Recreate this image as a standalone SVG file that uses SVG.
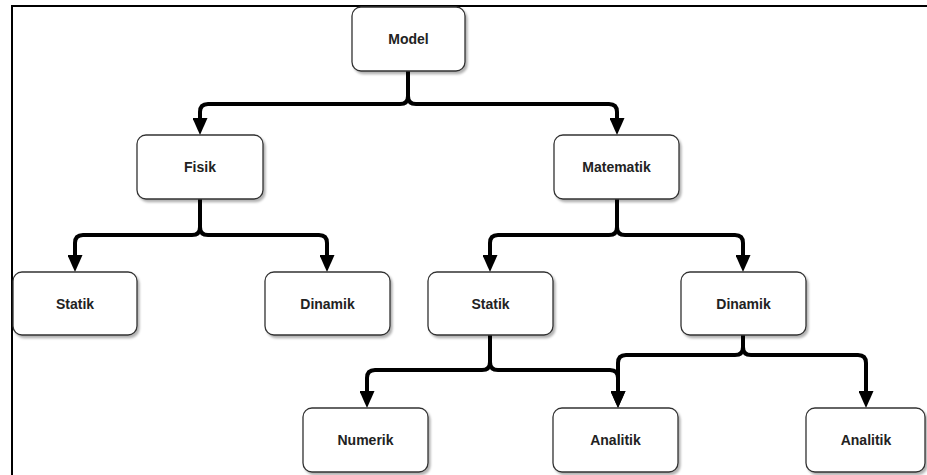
<svg xmlns="http://www.w3.org/2000/svg" width="927" height="475" viewBox="0 0 927 475">
<style>
.box{fill:#fff;stroke:#333;stroke-width:1.3;filter:url(#sh)}
.lbl{font-family:"Liberation Sans",Arial,sans-serif;font-size:14px;font-weight:bold;fill:#222;text-anchor:middle;dominant-baseline:central}
.edge{fill:none;stroke:#000;stroke-width:4;stroke-linejoin:round;marker-end:url(#arr)}
</style>
<defs>
<filter id="sh" x="-10%" y="-10%" width="130%" height="140%">
<feDropShadow dx="2" dy="2.5" stdDeviation="1.2" flood-color="#000" flood-opacity="0.3"/>
</filter>
<marker id="arr" markerUnits="userSpaceOnUse" markerWidth="17" markerHeight="15" refX="1" refY="7.5" orient="auto">
<path d="M0,0 L17,7.5 L0,15 z" fill="#000"/>
</marker>
</defs>
<rect width="927" height="475" fill="#fff"/>
<path d="M12,475 V6 H927" fill="none" stroke="#000" stroke-width="2"/>
<g id="connectors">
<path class="edge" d="M408,71 V96 Q408,104 400,104 H208 Q200,104 200,112 V119"/>
<path class="edge" d="M408,71 V96 Q408,104 416,104 H609 Q617,104 617,112 V119"/>
<path class="edge" d="M200,199 V227 Q200,235 192,235 H83 Q75,235 75,243 V256"/>
<path class="edge" d="M200,199 V227 Q200,235 208,235 H319 Q327,235 327,243 V256"/>
<path class="edge" d="M617,199 V227 Q617,235 609,235 H498 Q490,235 490,243 V256"/>
<path class="edge" d="M617,199 V227 Q617,235 625,235 H735 Q743,235 743,243 V256"/>
<path class="edge" d="M490,335 V362 Q490,370 482,370 H375 Q367,370 367,378 V392"/>
<path class="edge" d="M490,335 V362 Q490,370 498,370 H610 Q618,370 618,378 V392"/>
<path class="edge" d="M743,335 V347 Q743,355 735,355 H626 Q618,355 618,363 V392"/>
<path class="edge" d="M743,335 V347 Q743,355 751,355 H858 Q866,355 866,363 V392"/>
</g>
<g id="model"><rect class="box" x="352" y="7" width="113" height="64" rx="9"/><text class="lbl" x="408.5" y="39">Model</text></g>
<g id="fisik"><rect class="box" x="137" y="135" width="126" height="64" rx="9"/><text class="lbl" x="200" y="167">Fisik</text></g>
<g id="matematik"><rect class="box" x="554" y="135" width="125" height="64" rx="9"/><text class="lbl" x="616.5" y="167">Matematik</text></g>
<g id="statik1"><rect class="box" x="13" y="272" width="124" height="63" rx="9"/><text class="lbl" x="75" y="303.5">Statik</text></g>
<g id="dinamik1"><rect class="box" x="265" y="272" width="125" height="63" rx="9"/><text class="lbl" x="327.5" y="303.5">Dinamik</text></g>
<g id="statik2"><rect class="box" x="428" y="272" width="125" height="63" rx="9"/><text class="lbl" x="490.5" y="303.5">Statik</text></g>
<g id="dinamik2"><rect class="box" x="681" y="272" width="125" height="63" rx="9"/><text class="lbl" x="743.5" y="303.5">Dinamik</text></g>
<g id="numerik"><rect class="box" x="303" y="408" width="125" height="64" rx="9"/><text class="lbl" x="365.5" y="440">Numerik</text></g>
<g id="analitik1"><rect class="box" x="553" y="408" width="125" height="64" rx="9"/><text class="lbl" x="615.5" y="440">Analitik</text></g>
<g id="analitik2"><rect class="box" x="806" y="408" width="119" height="64" rx="9"/><text class="lbl" x="866" y="440">Analitik</text></g>
</svg>
